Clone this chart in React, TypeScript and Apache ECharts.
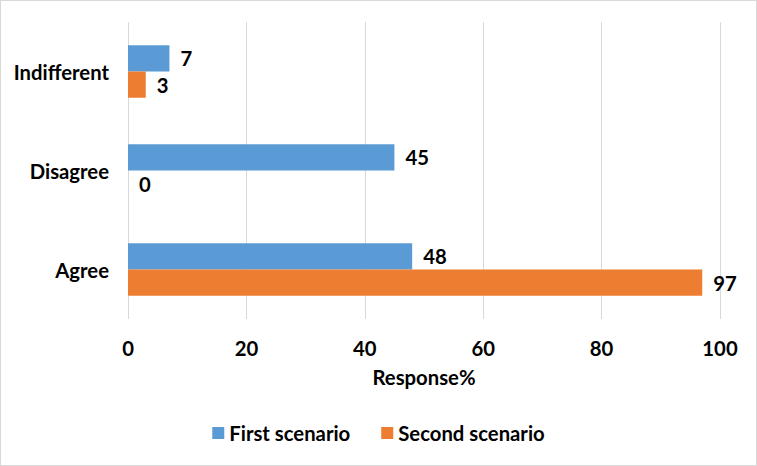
import React, { useEffect, useRef } from "react";
import * as echarts from "echarts";

const categories = ["Agree", "Disagree", "Indifferent"];
const firstScenario = [48, 45, 7];
const secondScenario = [97, 0, 3];
const seriesNames = ["First scenario", "Second scenario"];
const xTicks = { min: 0, max: 100, interval: 20 };

export default function App() {
  const ref = useRef<HTMLDivElement>(null);
  useEffect(() => {
    if (!ref.current) return;
    const chart = echarts.init(ref.current, null, { renderer: "svg" });
    const font = "Lato, 'Open Sans', sans-serif";
    const fs = 20.3;
    const labelStyle = {
      show: true,
      position: "right" as const,
      distance: 11,
      color: "#000",
      fontWeight: "bold" as const,
      fontSize: fs,
      fontFamily: font,
    };
    chart.setOption({
      animation: false,
      textStyle: { fontFamily: font },
      grid: { left: 127, right: 36, top: 21, bottom: 146, containLabel: false },
      legend: {
        bottom: 17,
        left: "center",
        itemWidth: 12,
        itemHeight: 12,
        itemGap: 31,
        icon: "rect",
        textStyle: { fontSize: fs, fontWeight: "bold", color: "#000", fontFamily: font },
        data: seriesNames,
      },
      xAxis: {
        type: "value",
        min: xTicks.min,
        max: xTicks.max,
        interval: xTicks.interval,
        name: "Response%",
        nameLocation: "middle",
        nameGap: 48,
        nameTextStyle: { fontSize: fs, fontWeight: "bold", color: "#000", fontFamily: font },
        axisLine: { show: false },
        axisTick: { show: false },
        axisLabel: { fontSize: fs, fontWeight: "bold", color: "#000", margin: 19, fontFamily: font },
        splitLine: { show: true, lineStyle: { color: "#d9d9d9", width: 1 } },
      },
      yAxis: {
        type: "category",
        data: categories,
        axisLine: { show: false },
        axisTick: { show: false },
        axisLabel: { fontSize: fs, fontWeight: "bold", color: "#000", margin: 19, fontFamily: font },
      },
      series: [
        {
          name: seriesNames[0],
          type: "bar",
          data: firstScenario,
          itemStyle: { color: "#5B9BD5" },
          barGap: "0%",
          barCategoryGap: "47%",
          label: labelStyle,
        },
        {
          name: seriesNames[1],
          type: "bar",
          data: secondScenario,
          itemStyle: { color: "#ED7D31" },
          barGap: "0%",
          barCategoryGap: "47%",
          label: labelStyle,
        },
      ],
    });
    return () => chart.dispose();
  }, []);
  return (
    <div
      style={{
        position: "fixed",
        left: 0,
        top: 0,
        width: 757,
        height: 466,
        boxSizing: "border-box",
        border: "1px solid #d9d9d9",
        background: "#fff",
      }}
    >
      <div ref={ref} style={{ width: 755, height: 464 }} />
    </div>
  );
}
